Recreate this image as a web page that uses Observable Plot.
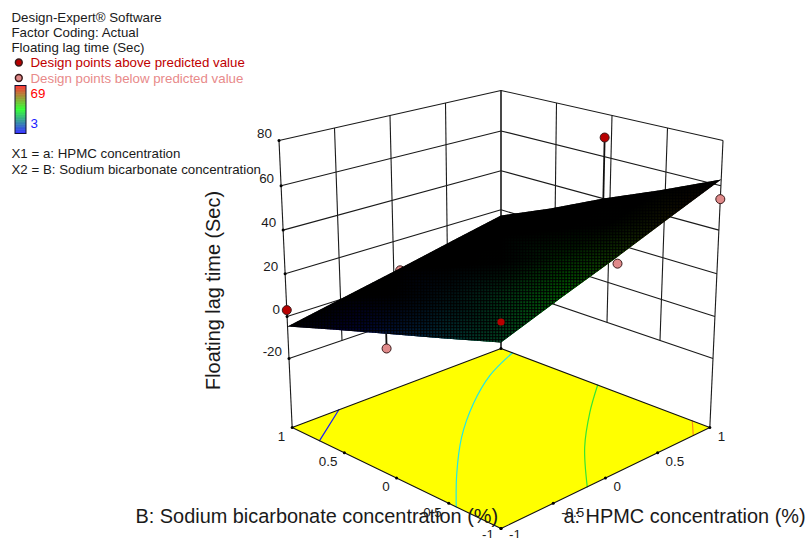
<!DOCTYPE html>
<html>
<head>
<meta charset="utf-8">
<script src="https://cdn.jsdelivr.net/npm/d3@7"></script>
<script src="https://cdn.jsdelivr.net/npm/@observablehq/plot@0.6"></script>
<style>html,body{margin:0;padding:0;background:#fff}svg{display:block}</style>
</head>
<body>
<div id="chart"></div>
<script>
// ---- values ----
const factorTicks = [-1, -0.5, 0, 0.5, 1];
const responseTicks = [-20, 0, 20, 40, 60, 80];
const floorLevel = -53.6;
// predicted surface read at the tick crossings: rows a = -1..1, columns B = -1..1
const surfaceRows = [
  [25.7, 18, 10.5, 3, -4.7],
  [35, 26.5, 18, 10, 0.7],
  [44, 35, 25, 15, 6],
  [53.5, 43, 32.5, 22, 11.6],
  [62.8, 51, 40, 28, 17]
];
const pointsAbove = [
  {a: -1, b: 1, z: 3},
  {a: 1, b: 0, z: 69}
];
const pointThroughSurface = [{a: -1, b: -1, z: 34}];
const pointsBelow = [
  {a: -1, b: 0, z: 4},
  {a: 0, b: -1, z: 41},
  {a: 1, b: -1, z: 54}
];
const pointsHidden = [{a: 0, b: 1, z: 5}];
const stems = [
  {a: 1, b: 0, z1: 69, z2: 40},
  {a: -1, b: 0, z1: 4, z2: 10.5}
];
const contourBlue = [[-0.592, 1], [-1, 0.706]];
const contourCyan = [[1, 0.877], [0.574, 0.688], [0.138, 0.412], [-0.295, 0.077], [-0.69, -0.292], [-1, -0.614]];
const contourGreen = [[1, 0.016], [0.611, -0.259], [0.173, -0.607], [-0.237, -1]];
const contourOrange = [[1, -0.849], [0.821, -1]];
const legendLines = ["Design-Expert® Software", "Factor Coding: Actual", "Floating lag time (Sec)"];
const colorDomain = [3, 69];
const colorRange = ["#0000ff", "#00ff00", "#ff0000"];

// ---- view of the 3D box: perspective camera, 45 degrees round, looking down ----
function project(a, b, z) {
  const u = (a - b) / 2, v = (a + b) / 2, d = 80 - z;
  const w = 1 + 0.1314 * v + 0.000472 * d;
  return [500.5 + 222 * u / w, (-38.2 * v + 2.349 * d + 140) / w];
}
const px = (a, b, z) => project(a, b, z)[0];
const py = (a, b, z) => project(a, b, z)[1];

// the reference spaces its box ticks evenly along each edge between the corners
function along(p, q, t) {
  const s = (t + 1) / 2;
  return [p[0] + (q[0] - p[0]) * s, p[1] + (q[1] - p[1]) * s];
}
const wallB = (t, z) => along(project(-1, 1, z), project(1, 1, z), t);   // wall at B = 1
const wallA = (t, z) => along(project(1, 1, z), project(1, -1, z), t);   // wall at a = 1
const floorFrontA = t => along(project(-1, -1, floorLevel), project(1, -1, floorLevel), t);
const floorFrontB = t => along(project(-1, -1, floorLevel), project(-1, 1, floorLevel), t);

const segs = [];
const addSeg = (p, q) => segs.push({x1: p[0], y1: p[1], x2: q[0], y2: q[1]});
for (const z of responseTicks) {
  addSeg(project(-1, 1, z), project(1, 1, z));
  addSeg(project(1, 1, z), project(1, -1, z));
}
for (const t of factorTicks) {
  const low = Math.abs(t) === 1 ? floorLevel : -20;
  addSeg(wallB(t, 80), wallB(t, low));
  addSeg(wallA(t, 80), wallA(t, low));
}

const surfaceGrid = surfaceRows.flatMap((row, i) => row.map((z, j) => ({a: factorTicks[i], b: factorTicks[j], z})));
const perimeter = [
  ...factorTicks.map((t, i) => [factorTicks[i], -1, surfaceRows[i][0]]),
  ...factorTicks.map((t, j) => [1, factorTicks[j], surfaceRows[4][j]]),
  ...[...factorTicks].reverse().map((t, k) => [t, 1, surfaceRows[4 - k][4]]),
  ...[...factorTicks].reverse().map((t, k) => [-1, t, surfaceRows[0][4 - k]])
].map(([a, b, z]) => project(a, b, z));
const floorPoly = [[-1, -1], [1, -1], [1, 1], [-1, 1]].map(([a, b]) => project(a, b, floorLevel));

const contour = (list, stroke, width = 1.2) => Plot.line(list.map(([a, b]) => project(a, b, floorLevel)), {
  x: d => d[0], y: d => d[1], stroke, strokeWidth: width, curve: "catmull-rom"
});
const dots = (list, fill, r = 4.5, stroke = "#3a1a1a") => Plot.dot(list, {
  x: d => px(d.a, d.b, d.z), y: d => py(d.a, d.b, d.z), r, fill, stroke, strokeWidth: 1
});
const family = "Liberation Sans, Arial, sans-serif";
const fontTick = {fontFamily: family, fontSize: 13.4, fill: "#1a1a1a"};
const fontKey = {fontFamily: family, fontSize: 13.3, textAnchor: "start"};
const fontTitle = {fontFamily: family, fontSize: 19.9, fill: "#1a1a1a"};
const tickDy = t => (t === -1 ? 6 : 9);

const barValues = d3.range(colorDomain[0], colorDomain[1], 1);
const barY = d3.scaleLinear(colorDomain, [133, 86]);

const chart = Plot.plot({
  width: 807, height: 538,
  marginTop: 0, marginRight: 0, marginBottom: 0, marginLeft: 0,
  x: {domain: [0, 807], range: [0, 807], axis: null},
  y: {domain: [0, 538], range: [0, 538], axis: null},
  color: {type: "linear", domain: colorDomain, range: colorRange, interpolate: "rgb"},
  style: {background: "#fff"},
  marks: [
    // walls
    Plot.link(segs, {x1: "x1", y1: "y1", x2: "x2", y2: "y2", stroke: "#1a1a1a", strokeWidth: 1.1}),
    dots(pointsHidden, "#e08a8a"),
    // floor and contours
    Plot.line(floorPoly, {x: d => d[0], y: d => d[1], fill: "#ffff00", stroke: "none"}),
    contour(contourBlue, "#1a1aff"),
    contour(contourCyan, "#22e6e6"),
    contour(contourGreen, "#33e633"),
    contour(contourOrange, "#ff8c1a"),
    Plot.line([...floorPoly, floorPoly[0]], {x: d => d[0], y: d => d[1], stroke: "#111", strokeWidth: 1.1}),
    // stems behind the surface
    Plot.link(stems, {
      x1: d => px(d.a, d.b, d.z1), y1: d => py(d.a, d.b, d.z1),
      x2: d => px(d.a, d.b, d.z2), y2: d => py(d.a, d.b, d.z2),
      stroke: "#111", strokeWidth: 1.8
    }),
    // surface: black hull, coloured by response, seen through a fine mesh
    Plot.line(perimeter, {x: d => d[0], y: d => d[1], fill: "#000", stroke: "none"}),
    Plot.raster(surfaceGrid, {
      x: d => px(d.a, d.b, d.z), y: d => py(d.a, d.b, d.z),
      fill: "z",
      fillOpacity: d => Math.min(1, Math.max(0, -(d.a + d.b) / 2 * 1.4 + 0.02)),
      interpolate: "barycentric", pixelSize: 1, imageRendering: "auto"
    }),
    Plot.line(perimeter, {x: d => d[0], y: d => d[1], fill: "url(#mesh)", stroke: "none"}),
    // design points
    dots(pointsBelow, "#e08a8a"),
    dots(pointsAbove, "#b80000"),
    dots(pointThroughSurface, "#b80000", 3.6, "none"),
    // ticks
    Plot.dot(responseTicks, {x: z => px(-1, 1, z), y: z => py(-1, 1, z), r: 1.5, fill: "#000"}),
    Plot.dot(factorTicks, {x: t => floorFrontA(t)[0], y: t => floorFrontA(t)[1], r: 1.5, fill: "#000"}),
    Plot.dot(factorTicks, {x: t => floorFrontB(t)[0], y: t => floorFrontB(t)[1], r: 1.5, fill: "#000"}),
    Plot.dot([0], {x: () => px(1, 1, floorLevel), y: () => py(1, 1, floorLevel), r: 1.5, fill: "#000"}),
    Plot.text(responseTicks, {x: z => px(-1, 1, z), y: z => py(-1, 1, z), text: z => String(z), dx: -7, dy: -7, textAnchor: "end", ...fontTick}),
    Plot.text(factorTicks, {x: t => floorFrontA(t)[0], y: t => floorFrontA(t)[1] + tickDy(t), text: t => String(t), dx: 8, textAnchor: "start", ...fontTick}),
    Plot.text(factorTicks, {x: t => floorFrontB(t)[0], y: t => floorFrontB(t)[1] + tickDy(t), text: t => String(t), dx: -7, textAnchor: "end", ...fontTick}),
    // axis titles
    Plot.text(["Floating lag time (Sec)"], {x: () => 213, y: () => 290, text: d => d, rotate: -90, textAnchor: "middle", ...fontTitle}),
    Plot.text(["B: Sodium bicarbonate concentration (%)"], {x: () => 135, y: () => 516, text: d => d, textAnchor: "start", ...fontTitle}),
    Plot.text(["a: HPMC concentration (%)"], {x: () => 563, y: () => 516, text: d => d, textAnchor: "start", ...fontTitle}),
    // key
    Plot.text(legendLines, {x: () => 11, y: (d, i) => 17.5 + 15 * i, text: d => d, fill: "#1a1a1a", ...fontKey}),
    Plot.dot([0], {x: () => 18.3, y: () => 62, r: 3.4, fill: "#b80000", stroke: "#3a1a1a"}),
    Plot.dot([0], {x: () => 18.3, y: () => 77.5, r: 3.4, fill: "#e08a8a", stroke: "#3a1a1a"}),
    Plot.text(["Design points above predicted value"], {x: () => 30, y: () => 62.5, text: d => d, fill: "#c00000", ...fontKey}),
    Plot.text(["Design points below predicted value"], {x: () => 30, y: () => 78.5, text: d => d, fill: "#e88a8a", ...fontKey}),
    Plot.rect(barValues, {x1: () => 15, x2: () => 26, y1: v => barY(v), y2: v => barY(v + 1), fill: v => v}),
    Plot.rect([0], {x1: () => 15, x2: () => 26, y1: () => 85.5, y2: () => 133.5, stroke: "#101030", fill: "none"}),
    Plot.text(["69"], {x: () => 30, y: () => 93, text: d => d, fill: "#ff0000", ...fontKey}),
    Plot.text(["3"], {x: () => 30, y: () => 123.5, text: d => d, fill: "#2020ff", ...fontKey}),
    Plot.text(["X1 = a: HPMC concentration"], {x: () => 11, y: () => 153.5, text: d => d, fill: "#1a1a1a", ...fontKey}),
    Plot.text(["X2 = B: Sodium bicarbonate concentration"], {x: () => 11, y: () => 169.5, text: d => d, fill: "#1a1a1a", ...fontKey})
  ]
});

// mesh texture for the surface and clipping of the coloured layer to the surface outline
const ns = "http://www.w3.org/2000/svg";
const defs = document.createElementNS(ns, "defs");
const pattern = document.createElementNS(ns, "pattern");
pattern.setAttribute("id", "mesh");
pattern.setAttribute("width", 3);
pattern.setAttribute("height", 3);
pattern.setAttribute("patternUnits", "userSpaceOnUse");
const path = document.createElementNS(ns, "path");
path.setAttribute("d", "M0 0H3V3H0Z M1 1V2.3H2.3V1Z");
path.setAttribute("fill-rule", "evenodd");
path.setAttribute("fill", "#000");
pattern.appendChild(path);
defs.appendChild(pattern);
const clip = document.createElementNS(ns, "clipPath");
clip.setAttribute("id", "surfaceClip");
const poly = document.createElementNS(ns, "polygon");
poly.setAttribute("points", perimeter.map(p => p.join(",")).join(" "));
clip.appendChild(poly);
defs.appendChild(clip);
chart.insertBefore(defs, chart.firstChild);
chart.querySelectorAll("image").forEach(el => el.setAttribute("clip-path", "url(#surfaceClip)"));
document.getElementById("chart").appendChild(chart);
</script>
</body>
</html>
